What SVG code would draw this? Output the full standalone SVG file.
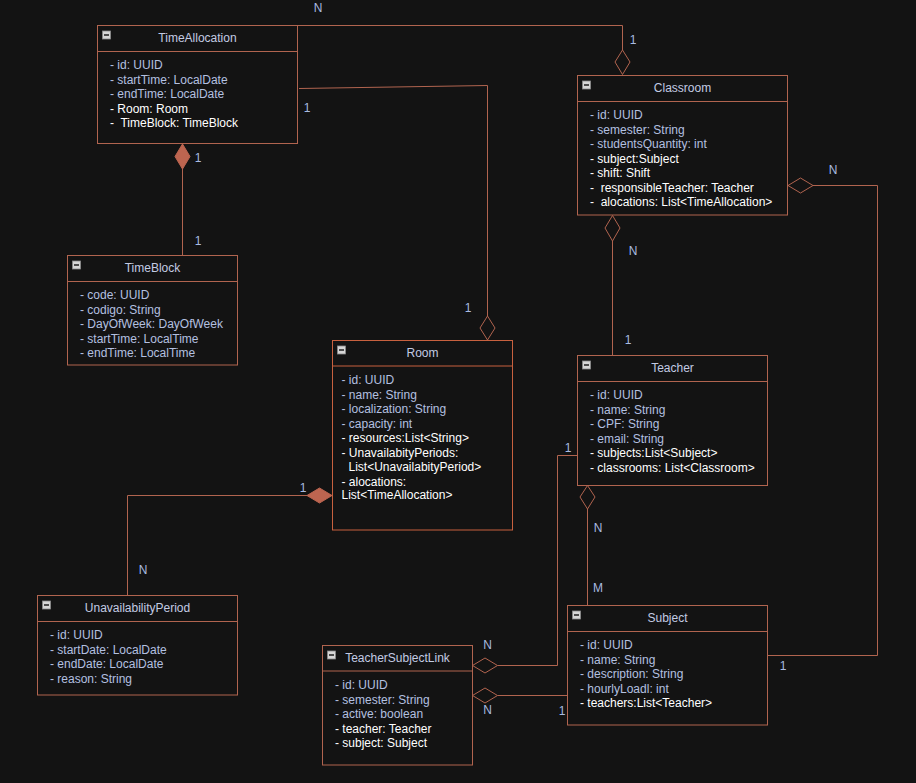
<svg xmlns="http://www.w3.org/2000/svg" width="916" height="783" viewBox="0 0 916 783">
<defs>
<style>
.bg{fill:#131313}
.box{fill:#131313;stroke:#b1644f;stroke-width:1}
.room{fill:#131313;stroke:#c8613f;stroke-width:1}
.sep{stroke:#b1644f;stroke-width:1}
.rsep{stroke:#c8613f;stroke-width:1}
.title{font-family:"Liberation Sans",Arial,sans-serif;font-size:12px;fill:#c3cbe3;text-anchor:middle}
.a{font-family:"Liberation Sans",Arial,sans-serif;font-size:12px;fill:#b3c0e0;white-space:pre}
.w{font-family:"Liberation Sans",Arial,sans-serif;font-size:12px;fill:#ffffff;white-space:pre}
.lbl{font-family:"Liberation Sans",Arial,sans-serif;font-size:12px;fill:#a9bbe0;text-anchor:middle}
.ln{fill:none;stroke:#b1644f;stroke-width:1}
.ho{fill:#131313;stroke:#b1644f;stroke-width:1}
.fi{fill:#bd6550;stroke:#bd6550;stroke-width:1}
</style>
<g id="minus">
<rect x="0" y="0" width="8" height="8" fill="#d6d6d6" stroke="#8a8a8a" stroke-width="0.8"/>
<line x1="1.5" y1="4" x2="6.5" y2="4" stroke="#111" stroke-width="1.4"/>
</g>
</defs>
<rect class="bg" x="0" y="0" width="916" height="783"/>

<g id="connectors">
<!-- TimeAllocation - Classroom -->
<path class="ln" d="M297,25.5 H622.5 V50"/>
<path class="ho" d="M622.5,50 L630,62 L622.5,74.5 L615,62 Z"/>
<!-- TimeAllocation - Room -->
<path class="ln" d="M299,88.5 L487.5,85.5 V316"/>
<path class="ho" d="M487.5,316 L495,328 L487.5,340 L480,328 Z"/>
<!-- TimeAllocation - TimeBlock -->
<path class="ln" d="M182.5,169 V255.5"/>
<path class="fi" d="M182.5,144 L190,156.5 L182.5,169 L175,156.5 Z"/>
<!-- Room - UnavailabilityPeriod -->
<path class="ln" d="M307,495.5 H127.5 V595.5"/>
<path class="fi" d="M332,495.5 L319.5,503 L307,495.5 L319.5,488 Z"/>
<!-- Classroom - Teacher -->
<path class="ln" d="M612.5,241 V355"/>
<path class="ho" d="M612.5,215.5 L620,228 L612.5,241 L605,228 Z"/>
<!-- Classroom - Subject -->
<path class="ln" d="M813,185.5 H877.5 V655.5 H767.5"/>
<path class="ho" d="M788,185.5 L800.5,178 L813,185.5 L800.5,193 Z"/>
<!-- Teacher - Subject -->
<path class="ln" d="M587.5,509 V605"/>
<path class="ho" d="M587.5,485.5 L595,497 L587.5,509 L580,497 Z"/>
<!-- Teacher - TeacherSubjectLink -->
<path class="ln" d="M577.5,455.5 H557.5 V665.5 H497.5"/>
<path class="ho" d="M472.5,665.5 L485,658 L497.5,665.5 L485,673 Z"/>
<!-- Subject - TeacherSubjectLink -->
<path class="ln" d="M567.5,695.5 H497.5"/>
<path class="ho" d="M472.5,695.5 L485,688 L497.5,695.5 L485,703 Z"/>

<text class="lbl" x="318" y="12">N</text>
<text class="lbl" x="633" y="44">1</text>
<text class="lbl" x="307" y="111.5">1</text>
<text class="lbl" x="468" y="312">1</text>
<text class="lbl" x="198" y="161.5">1</text>
<text class="lbl" x="198" y="244.5">1</text>
<text class="lbl" x="303" y="492">1</text>
<text class="lbl" x="143" y="574">N</text>
<text class="lbl" x="633" y="254.5">N</text>
<text class="lbl" x="628" y="344">1</text>
<text class="lbl" x="833" y="174">N</text>
<text class="lbl" x="783" y="669.5">1</text>
<text class="lbl" x="598" y="532">N</text>
<text class="lbl" x="598" y="592">M</text>
<text class="lbl" x="568" y="452">1</text>
<text class="lbl" x="487.5" y="649">N</text>
<text class="lbl" x="562" y="714.5">1</text>
<text class="lbl" x="487.5" y="713.5">N</text>
</g>

<g id="TimeAllocation">
<rect class="box" x="97.5" y="25.5" width="200" height="118"/>
<line class="sep" x1="97.5" y1="51.5" x2="297.5" y2="51.5"/>
<use href="#minus" x="102.5" y="31"/>
<text class="title" x="197.5" y="42">TimeAllocation</text>
<text class="a" x="110" y="69">- id: UUID</text>
<text class="a" x="110" y="83.5">- startTime: LocalDate</text>
<text class="a" x="110" y="98">- endTime: LocalDate</text>
<text class="w" x="110" y="112.5">- Room: Room</text>
<text class="w" x="110" y="127" xml:space="preserve">-  TimeBlock: TimeBlock</text>
</g>

<g id="Classroom">
<rect class="box" x="577.5" y="75.5" width="210" height="139.5"/>
<line class="sep" x1="577.5" y1="101.5" x2="787.5" y2="101.5"/>
<use href="#minus" x="582.5" y="81"/>
<text class="title" x="682.5" y="92">Classroom</text>
<text class="a" x="590" y="119">- id: UUID</text>
<text class="a" x="590" y="133.5">- semester: String</text>
<text class="a" x="590" y="148">- studentsQuantity: int</text>
<text class="w" x="590" y="162.5">- subject:Subject</text>
<text class="w" x="590" y="177">- shift: Shift</text>
<text class="w" x="590" y="191.5" xml:space="preserve">-  responsibleTeacher: Teacher</text>
<text class="w" x="590" y="206" xml:space="preserve">-  alocations: List&lt;TimeAllocation&gt;</text>
</g>

<g id="TimeBlock">
<rect class="box" x="67.5" y="255.5" width="170" height="109.5"/>
<line class="sep" x1="67.5" y1="281.5" x2="237.5" y2="281.5"/>
<use href="#minus" x="72.5" y="261"/>
<text class="title" x="152.5" y="272">TimeBlock</text>
<text class="a" x="80" y="299">- code: UUID</text>
<text class="a" x="80" y="313.5">- codigo: String</text>
<text class="a" x="80" y="328">- DayOfWeek: DayOfWeek</text>
<text class="a" x="80" y="342.5">- startTime: LocalTime</text>
<text class="a" x="80" y="357">- endTime: LocalTime</text>
</g>

<g id="Room">
<rect class="room" x="332.5" y="340.5" width="180" height="189.5"/>
<line class="rsep" x1="332.5" y1="366" x2="512.5" y2="366"/>
<use href="#minus" x="337.5" y="346"/>
<text class="title" x="422.5" y="357">Room</text>
<text class="a" x="341.5" y="384">- id: UUID</text>
<text class="a" x="341.5" y="398.5">- name: String</text>
<text class="a" x="341.5" y="413">- localization: String</text>
<text class="a" x="341.5" y="427.5">- capacity: int</text>
<text class="w" x="341.5" y="442">- resources:List&lt;String&gt;</text>
<text class="w" x="341.5" y="456.5">- UnavailabityPeriods:</text>
<text class="w" x="348.5" y="471">List&lt;UnavailabityPeriod&gt;</text>
<text class="w" x="341.5" y="485.5">- alocations:</text>
<text class="w" x="341.5" y="499">List&lt;TimeAllocation&gt;</text>
</g>

<g id="Teacher">
<rect class="box" x="577.5" y="355.5" width="190" height="130"/>
<line class="sep" x1="577.5" y1="381.5" x2="767.5" y2="381.5"/>
<use href="#minus" x="582.5" y="361"/>
<text class="title" x="672.5" y="372">Teacher</text>
<text class="a" x="590" y="399">- id: UUID</text>
<text class="a" x="590" y="413.5">- name: String</text>
<text class="a" x="590" y="428">- CPF: String</text>
<text class="a" x="590" y="442.5">- email: String</text>
<text class="w" x="590" y="457">- subjects:List&lt;Subject&gt;</text>
<text class="w" x="590" y="471.5">- classrooms: List&lt;Classroom&gt;</text>
</g>

<g id="UnavailabilityPeriod">
<rect class="box" x="37.5" y="595.5" width="200" height="99.5"/>
<line class="sep" x1="37.5" y1="621.5" x2="237.5" y2="621.5"/>
<use href="#minus" x="42.5" y="601"/>
<text class="title" x="137.5" y="612">UnavailabilityPeriod</text>
<text class="a" x="50" y="639">- id: UUID</text>
<text class="a" x="50" y="653.5">- startDate: LocalDate</text>
<text class="a" x="50" y="668">- endDate: LocalDate</text>
<text class="a" x="50" y="682.5">- reason: String</text>
</g>

<g id="TeacherSubjectLink">
<rect class="box" x="322.5" y="645.5" width="150" height="119.5"/>
<line class="sep" x1="322.5" y1="671" x2="472.5" y2="671"/>
<use href="#minus" x="327.5" y="651"/>
<text class="title" x="397.5" y="662">TeacherSubjectLink</text>
<text class="a" x="335" y="689">- id: UUID</text>
<text class="a" x="335" y="703.5">- semester: String</text>
<text class="a" x="335" y="718">- active: boolean</text>
<text class="w" x="335" y="732.5">- teacher: Teacher</text>
<text class="w" x="335" y="747">- subject: Subject</text>
</g>

<g id="Subject">
<rect class="box" x="567.5" y="605.5" width="200" height="119.5"/>
<line class="sep" x1="567.5" y1="631.5" x2="767.5" y2="631.5"/>
<use href="#minus" x="572.5" y="611"/>
<text class="title" x="667.5" y="622">Subject</text>
<text class="a" x="580" y="649">- id: UUID</text>
<text class="a" x="580" y="663.5">- name: String</text>
<text class="a" x="580" y="678">- description: String</text>
<text class="a" x="580" y="692.5">- hourlyLoadl: int</text>
<text class="w" x="580" y="707">- teachers:List&lt;Teacher&gt;</text>
</g>
</svg>
